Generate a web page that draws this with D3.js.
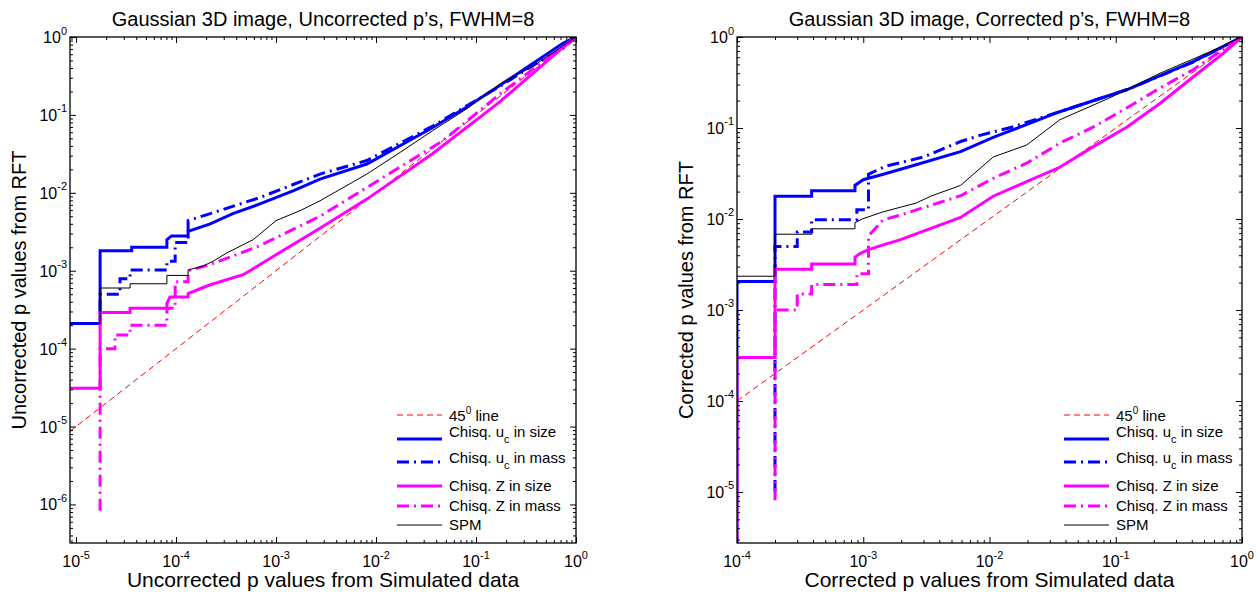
<!DOCTYPE html>
<html>
<head>
<meta charset="utf-8">
<script src="https://cdn.jsdelivr.net/npm/d3@7"></script>
<style>
  body { margin: 0; background: #fff; }
  text { font-family: "Liberation Sans", Arial, Helvetica, sans-serif; fill: #000; }
</style>
</head>
<body>
<svg id="chart" width="1260" height="592"></svg>
<script>

// ---- data: [simulated p, RFT p] pairs ----
var legendNames = ["45|0| line", "Chisq. u_c in size", "Chisq. u_c in mass", "Chisq. Z in size", "Chisq. Z in mass", "SPM"];

var leftXTicks = [1e-5, 1e-4, 1e-3, 1e-2, 1e-1, 1];
var leftYTicks = [1e-6, 1e-5, 1e-4, 1e-3, 1e-2, 1e-1, 1];
var rightXTicks = [1e-4, 1e-3, 1e-2, 1e-1, 1];
var rightYTicks = [1e-5, 1e-4, 1e-3, 1e-2, 1e-1, 1];

var leftDiag = [[8.7e-6, 8.7e-6], [1, 1]];
var leftUcSize = [[8.7e-6, 2.1e-4], [1.74e-5, 2.1e-4], [1.74e-5, 1.8e-3], [3.6e-5, 1.8e-3], [3.6e-5, 2.0e-3],
  [8.1e-5, 2.0e-3], [8.1e-5, 2.5e-3], [9.0e-5, 2.8e-3], [1.32e-4, 2.8e-3], [1.32e-4, 3.2e-3], [2.2e-4, 4.0e-3],
  [3.7e-4, 5.4e-3], [6.9e-4, 7.2e-3], [1.5e-3, 0.0107], [2.75e-3, 0.015], [8.1e-3, 0.0234], [0.037, 0.069],
  [0.081, 0.126], [0.174, 0.24], [0.37, 0.457], [0.74, 0.83], [1, 1]];
var leftUcMass = [[1.74e-5, 3e-4], [1.74e-5, 5.0e-4], [2.75e-5, 5.0e-4], [2.75e-5, 7.9e-4], [3.47e-5, 7.9e-4],
  [3.47e-5, 1.02e-3], [8.1e-5, 1.02e-3], [8.1e-5, 1.32e-3], [9.8e-5, 1.32e-3], [9.8e-5, 2.3e-3], [1.32e-4, 2.3e-3],
  [1.32e-4, 4.4e-3], [2.2e-4, 5.4e-3], [6.9e-4, 8.7e-3], [2.75e-3, 0.0174], [8.1e-3, 0.026], [0.037, 0.072],
  [0.174, 0.234], [0.37, 0.43], [0.74, 0.71], [1, 1]];
var leftZSize = [[8.7e-6, 3.1e-5], [1.74e-5, 3.1e-5], [1.74e-5, 2.9e-4], [3.47e-5, 2.9e-4], [3.47e-5, 3.3e-4],
  [8.1e-5, 3.3e-4], [8.1e-5, 3.8e-4], [8.7e-5, 4.6e-4], [1.32e-4, 4.6e-4], [1.32e-4, 5.1e-4], [2.2e-4, 6.6e-4],
  [4.7e-4, 8.9e-4], [1e-3, 1.6e-3], [2.75e-3, 3.5e-3], [8.1e-3, 8.3e-3], [0.037, 0.032], [0.174, 0.148],
  [0.69, 0.68], [1, 1]];
var leftZMass = [[1.74e-5, 8.3e-7], [1.74e-5, 1.0e-4], [2.45e-5, 1.0e-4], [2.45e-5, 1.5e-4], [3.47e-5, 1.5e-4],
  [3.47e-5, 2.0e-4], [8.1e-5, 2.0e-4], [8.1e-5, 3.3e-4], [9.8e-5, 3.3e-4], [9.8e-5, 7.2e-4], [1.32e-4, 7.2e-4],
  [1.32e-4, 1.0e-3], [2.2e-4, 1.2e-3], [6.9e-4, 2.1e-3], [2.75e-3, 5.0e-3], [8.1e-3, 0.0117], [0.047, 0.047],
  [0.174, 0.186], [0.69, 0.70], [1, 1]];
var leftSpm = [[8.7e-6, 2.1e-4], [1.74e-5, 2.1e-4], [1.74e-5, 6.0e-4], [3.47e-5, 6.0e-4], [3.47e-5, 6.8e-4],
  [8.1e-5, 6.8e-4], [8.1e-5, 8.7e-4], [1.32e-4, 8.7e-4], [1.32e-4, 1.02e-3], [1.86e-4, 1.15e-3], [2.34e-4, 1.32e-3],
  [3.24e-4, 1.7e-3], [5.9e-4, 2.5e-3], [1e-3, 4.4e-3], [1.74e-3, 5.9e-3], [2.75e-3, 7.9e-3], [3.7e-3, 9.8e-3],
  [8.1e-3, 0.0174], [0.0174, 0.033], [0.037, 0.063], [0.081, 0.12], [0.174, 0.25], [0.37, 0.42], [1, 1]];

var rightDiag = [[1e-4, 1e-4], [1, 1]];
var rightUcSize = [[1e-4, 1e-6], [1e-4, 2.05e-3], [2e-4, 2.05e-3], [2e-4, 0.0178], [3.9e-4, 0.0178], [3.9e-4, 0.0204],
  [8.6e-4, 0.0204], [8.6e-4, 0.0234], [1.0e-3, 0.027], [1.44e-3, 0.031], [1.95e-3, 0.035], [5.9e-3, 0.055],
  [0.0107, 0.079], [0.036, 0.151], [0.122, 0.263], [0.41, 0.537], [1, 1]];
var rightUcMass = [[2e-4, 1e-5], [2e-4, 5e-3], [3e-4, 5e-3], [3e-4, 7.2e-3], [3.9e-4, 7.2e-3], [3.9e-4, 9.8e-3],
  [8.9e-4, 9.8e-3], [8.9e-4, 0.0126], [1.1e-3, 0.0126], [1.1e-3, 0.031], [1.5e-3, 0.038], [3e-3, 0.048],
  [5.9e-3, 0.071], [8.4e-3, 0.083], [0.015, 0.102], [0.036, 0.151], [0.122, 0.263], [0.41, 0.53], [1, 1]];
var rightZSize = [[1e-4, 1e-6], [1e-4, 3e-4], [2e-4, 3e-4], [2e-4, 2.8e-3], [3.9e-4, 2.8e-3], [3.9e-4, 3.2e-3],
  [8.6e-4, 3.2e-3], [8.6e-4, 3.8e-3], [9.5e-4, 4.2e-3], [1.1e-3, 4.6e-3], [1.44e-3, 5.2e-3], [1.95e-3, 5.9e-3],
  [5.9e-3, 0.0104], [0.0107, 0.0178], [0.0197, 0.0257], [0.036, 0.037], [0.066, 0.062], [0.122, 0.102],
  [0.224, 0.186], [0.41, 0.363], [0.71, 0.66], [1, 1]];
var rightZMass = [[2e-4, 8.1e-6], [2e-4, 1e-3], [3e-4, 1e-3], [3e-4, 1.5e-3], [3.9e-4, 1.5e-3], [3.9e-4, 1.9e-3],
  [8.9e-4, 1.9e-3], [8.9e-4, 2.5e-3], [1.1e-3, 2.5e-3], [1.1e-3, 6.5e-3], [1.44e-3, 9.8e-3], [1.95e-3, 0.011],
  [5.9e-3, 0.018], [0.0107, 0.028], [0.0197, 0.041], [0.036, 0.068], [0.066, 0.102], [0.122, 0.166],
  [0.224, 0.275], [0.41, 0.437], [0.76, 0.78], [1, 1]];
var rightSpm = [[1e-4, 2.35e-3], [2e-4, 2.35e-3], [2e-4, 6.8e-3], [3.9e-4, 6.8e-3], [3.9e-4, 7.8e-3], [8.6e-4, 7.8e-3],
  [8.6e-4, 9.1e-3], [9.8e-4, 0.01], [1.44e-3, 0.012], [2.6e-3, 0.0149], [3.5e-3, 0.018], [5.9e-3, 0.0234],
  [0.0107, 0.048], [0.0197, 0.065], [0.036, 0.123], [0.090, 0.215], [0.224, 0.40], [0.56, 0.69], [1, 1]];

// line styles, same order as legendNames
var styles = [
  {color: "#ff0000", width: 1, dash: "6,4"},
  {color: "#0000ff", width: 3, dash: null},
  {color: "#0000ff", width: 3, dash: "12,5,2,5"},
  {color: "#ff00ff", width: 3, dash: null},
  {color: "#ff00ff", width: 3, dash: "12,5,2,5"},
  {color: "#000000", width: 1, dash: null}
];

var svg = d3.select("#chart");

function minorTicks(domain) {
  var out = [];
  var lo = Math.floor(Math.log10(domain[0])), hi = Math.ceil(Math.log10(domain[1]));
  for (var e = lo; e < hi; e++) {
    for (var k = 2; k <= 9; k++) {
      var v = k * Math.pow(10, e);
      if (v >= domain[0] && v <= domain[1]) out.push(v);
    }
  }
  return out;
}

function drawPanel(cfg, idx) {
  var g = svg.append("g")
      .attr("transform", "translate(" + cfg.left + "," + cfg.top + ")");

  var x = d3.scaleLog().domain(cfg.xDomain).range([0, cfg.width]);
  var y = d3.scaleLog().domain(cfg.yDomain).range([cfg.height, 0]);

  g.append("clipPath").attr("id", "clip" + idx)
    .append("rect").attr("width", cfg.width).attr("height", cfg.height);

  var line = d3.line()
      .x(function(d) { return x(d[0]); })
      .y(function(d) { return y(d[1]); });

  var plot = g.append("g").attr("clip-path", "url(#clip" + idx + ")");
  cfg.series.forEach(function(s, i) {
    plot.append("path")
      .datum(s)
      .attr("d", line)
      .attr("fill", "none")
      .attr("stroke", styles[i].color)
      .attr("stroke-width", styles[i].width)
      .attr("stroke-dasharray", styles[i].dash);
  });

  // ticks on all four sides, pointing inward
  var xm = minorTicks(cfg.xDomain), ym = minorTicks(cfg.yDomain);
  var axes = [
    [d3.axisBottom(x), "translate(0," + cfg.height + ")", cfg.xTicks, xm],
    [d3.axisTop(x), null, cfg.xTicks, xm],
    [d3.axisLeft(y), null, cfg.yTicks, ym],
    [d3.axisRight(y), "translate(" + cfg.width + ",0)", cfg.yTicks, ym]
  ];
  axes.forEach(function(a) {
    [[a[2], 6], [a[3], 3]].forEach(function(t) {
      var ax = g.append("g").attr("transform", a[1])
        .call(a[0].tickValues(t[0]).tickSize(-t[1]).tickFormat(""));
      ax.select(".domain").remove();
      ax.selectAll("line").attr("stroke", "#000").attr("stroke-width", 1);
    });
  });

  g.append("rect")
    .attr("width", cfg.width).attr("height", cfg.height)
    .attr("fill", "none").attr("stroke", "#000").attr("stroke-width", 1.3);

  // tick labels 10^n
  cfg.xTicks.forEach(function(v) {
    var t = g.append("text")
      .attr("x", x(v)).attr("y", cfg.height + 24)
      .attr("text-anchor", "middle").style("font-size", "16px");
    t.append("tspan").text("10");
    t.append("tspan").attr("dy", -8).style("font-size", "11px").text(Math.round(Math.log10(v)));
  });
  cfg.yTicks.forEach(function(v) {
    var t = g.append("text")
      .attr("x", -3).attr("y", y(v) + 6)
      .attr("text-anchor", "end").style("font-size", "16px");
    t.append("tspan").text("10");
    t.append("tspan").attr("dy", -8.5).style("font-size", "11px").text(Math.round(Math.log10(v)));
  });

  g.append("text")
    .attr("x", cfg.width / 2).attr("y", -11)
    .attr("text-anchor", "middle").style("font-size", "20px")
    .text(cfg.title);
  g.append("text")
    .attr("x", cfg.width / 2).attr("y", cfg.height + 44)
    .attr("text-anchor", "middle").style("font-size", "21px")
    .text(cfg.xLabel);
  g.append("text")
    .attr("transform", "translate(-44," + cfg.height / 2 + ") rotate(-90)")
    .attr("text-anchor", "middle").style("font-size", "20px")
    .text(cfg.yLabel);

  // legend
  var rowLine = [378, 402, 425, 449, 469, 488];
  var rowText = [384, 400, 425.5, 453.5, 473.5, 493];
  legendNames.forEach(function(name, i) {
    g.append("line")
      .attr("x1", 327).attr("x2", 372)
      .attr("y1", rowLine[i]).attr("y2", rowLine[i])
      .attr("stroke", styles[i].color)
      .attr("stroke-width", styles[i].width)
      .attr("stroke-dasharray", styles[i].dash);
    var t = g.append("text").attr("x", 379).attr("y", rowText[i]).style("font-size", "15px");
    if (name.indexOf("|") >= 0) {
      var p = name.split("|");
      t.append("tspan").text(p[0]);
      t.append("tspan").attr("dy", -7).style("font-size", "10px").text(p[1]);
      t.append("tspan").attr("dy", 7).text(p[2]);
    } else if (name.indexOf("_") >= 0) {
      var a = name.split("_");
      t.append("tspan").text(a[0]);
      t.append("tspan").attr("dy", 6).style("font-size", "11px").text(a[1].charAt(0));
      t.append("tspan").attr("dy", -6).text(a[1].slice(1));
    } else {
      t.text(name);
    }
  });
}

drawPanel({
  left: 70, top: 37, width: 506, height: 506,
  xDomain: [8.7e-6, 1], yDomain: [3.2e-7, 1],
  xTicks: leftXTicks, yTicks: leftYTicks,
  title: "Gaussian 3D image, Uncorrected p\u2019s, FWHM=8",
  xLabel: "Uncorrected p values from Simulated data",
  yLabel: "Uncorrected p values from RFT",
  series: [leftDiag, leftUcSize, leftUcMass, leftZSize, leftZMass, leftSpm]
}, 0);

drawPanel({
  left: 737, top: 37, width: 505, height: 506,
  xDomain: [1e-4, 1], yDomain: [2.75e-6, 1],
  xTicks: rightXTicks, yTicks: rightYTicks,
  title: "Gaussian 3D image, Corrected p\u2019s, FWHM=8",
  xLabel: "Corrected p values from Simulated data",
  yLabel: "Corrected p values from RFT",
  series: [rightDiag, rightUcSize, rightUcMass, rightZSize, rightZMass, rightSpm]
}, 1);

</script>
</body>
</html>
